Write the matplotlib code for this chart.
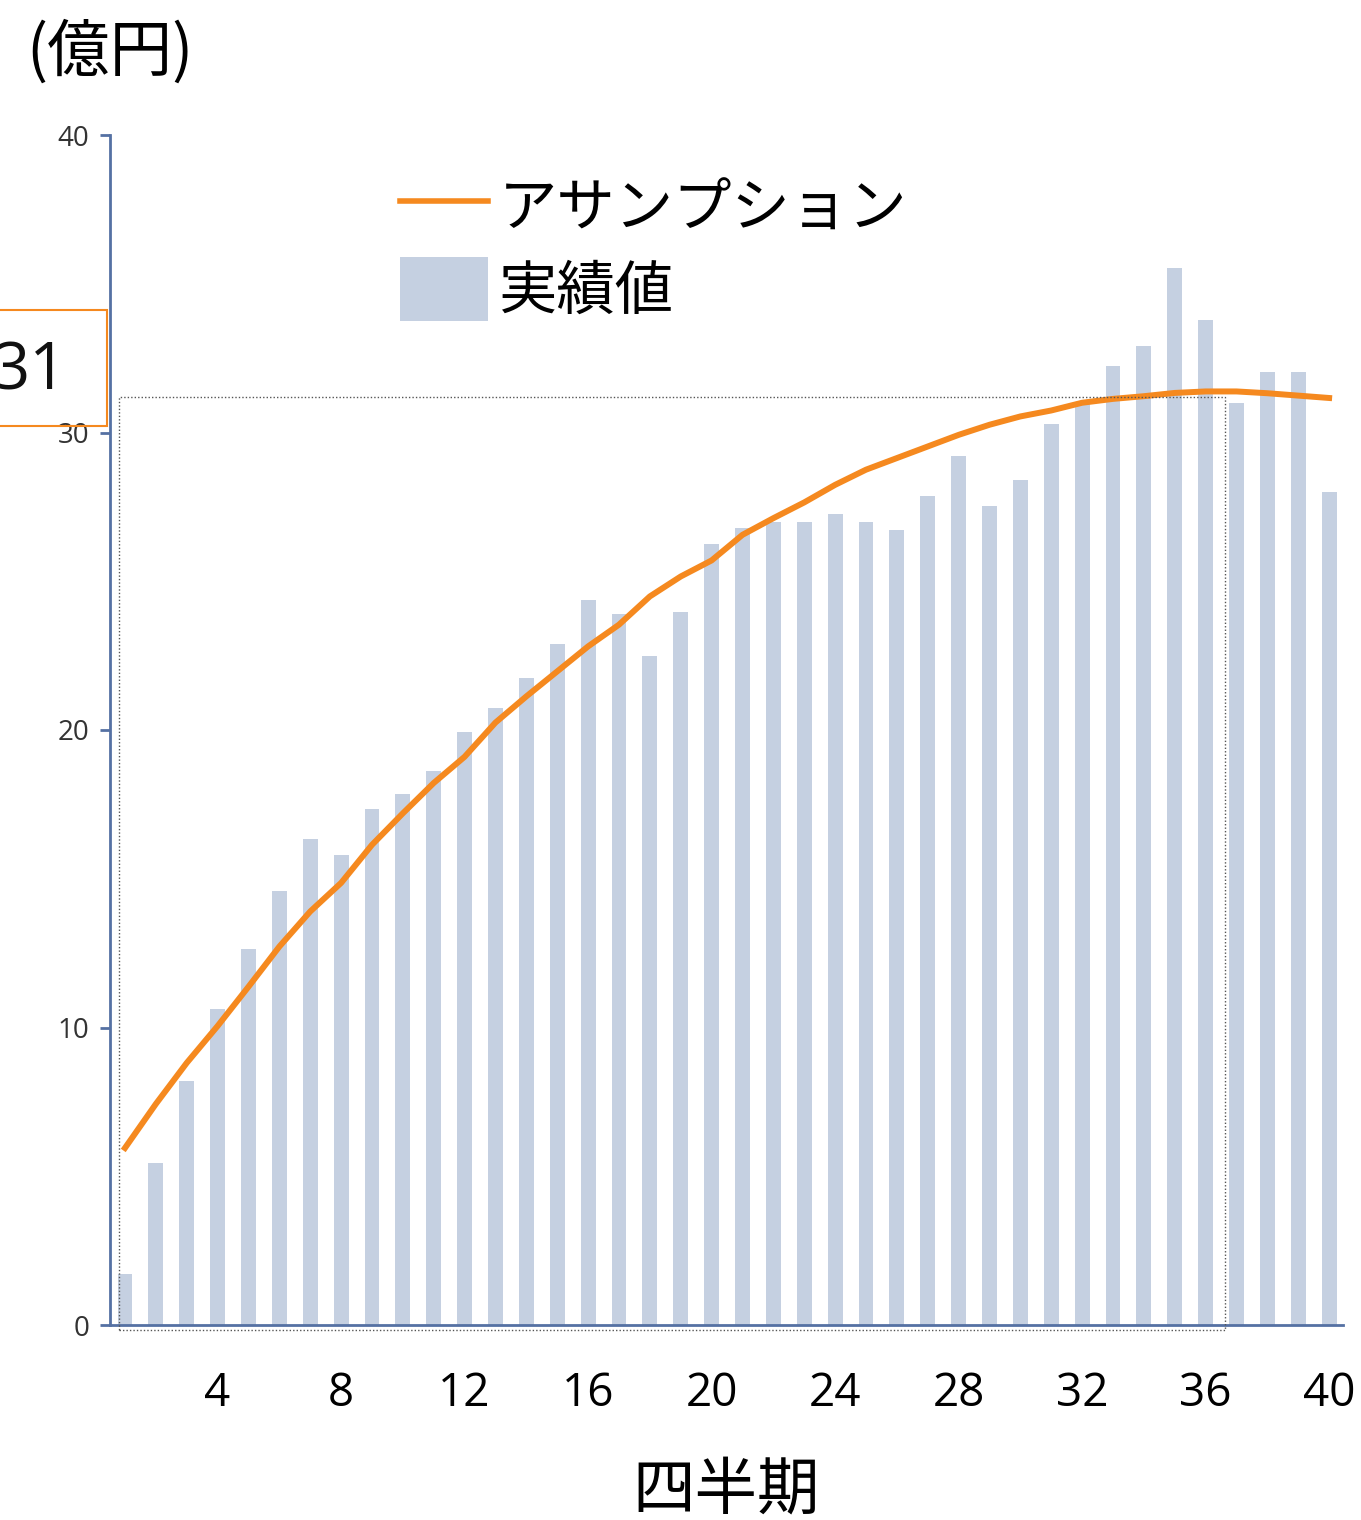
import numpy as np
import matplotlib.pyplot as plt
from matplotlib.patches import Rectangle
from matplotlib.lines import Line2D
from matplotlib.patches import Patch

plt.rcParams["font.family"] = ["Noto Sans CJK JP", "DejaVu Sans"]

# quarterly actuals (億円) and the assumed trend
quarters = np.arange(1, 41)
actuals = [
    1.7, 5.45, 8.2, 10.62, 12.64, 14.59, 16.34, 15.8, 17.34, 17.85,
    18.62, 19.93, 20.74, 21.75, 22.89, 24.37, 23.9, 22.49, 23.97, 26.25,
    26.79, 26.99, 26.99, 27.26, 26.99, 26.72, 27.87, 29.21, 27.53, 28.4,
    30.27, 31.0, 32.22, 32.9, 35.52, 33.77, 31.0, 32.02, 32.02, 28.0,
]
assumption = [
    5.95, 7.43, 8.81, 10.05, 11.37, 12.72, 13.9, 14.86, 16.14, 17.2,
    18.22, 19.1, 20.25, 21.13, 21.97, 22.81, 23.54, 24.49, 25.16, 25.7,
    26.56, 27.12, 27.65, 28.24, 28.75, 29.14, 29.53, 29.92, 30.26, 30.54,
    30.74, 31.0, 31.13, 31.22, 31.33, 31.38, 31.38, 31.32, 31.24, 31.16,
]
xticks = list(range(4, 41, 4))
yticks = [0, 10, 20, 30, 40]
marked_value = 31
marked_span = (0.815, 36.64)

bar_color = "#c5d0e1"
line_color = "#f5891f"
axis_color = "#5571a3"

fig = plt.figure(figsize=(13.61, 15.2), dpi=100)
ax = fig.add_axes([110 / 1361, 195 / 1520, 1233 / 1361, 1190 / 1520])

ax.bar(quarters, actuals, width=0.48, color=bar_color, zorder=2)
ax.plot(quarters, assumption, color=line_color, linewidth=4.3,
        solid_joinstyle="round", zorder=3)

ax.set_xlim(0.515, 40.45)
ax.set_ylim(0, 40)

for side in ("top", "right"):
    ax.spines[side].set_visible(False)
for side in ("left", "bottom"):
    ax.spines[side].set_color(axis_color)
    ax.spines[side].set_linewidth(2)

ax.set_yticks(yticks)
ax.set_yticklabels([str(v) for v in yticks], fontsize=20, color="#333333",
                   family="Open Sans")
ax.tick_params(axis="y", length=7, width=2, color=axis_color, pad=8)

ax.set_xticks(xticks)
ax.set_xticklabels([str(v) for v in xticks], fontsize=33, family="Open Sans")
ax.tick_params(axis="x", length=0, pad=33)

ax.set_xlabel("四半期", fontsize=45, labelpad=30)
fig.text(110 / 1361, 1 - 52 / 1520, "(億円)", fontsize=45,
         ha="center", va="center")

# dotted frame around the range up to the marked level
x0, x1 = marked_span
ax.add_patch(Rectangle((x0, -0.17), x1 - x0, marked_value + 0.21 + 0.17,
                       fill=False, linestyle=(0, (1, 1.5)), linewidth=1,
                       edgecolor="#555555", clip_on=False, zorder=4))

# level callout at the left edge
fig.patches.append(Rectangle((-20 / 1361, 1 - 426 / 1520), 127 / 1361,
                             116 / 1520, fill=False, edgecolor=line_color,
                             linewidth=1.5, transform=fig.transFigure))
fig.text(67 / 1361, 1 - 372 / 1520, str(marked_value), fontsize=47,
         family="Open Sans", ha="right", va="center", color="#111111")

handles = [
    Line2D([], [], color=line_color, linewidth=4),
    Patch(facecolor=bar_color),
]
ax.legend(handles, ["アサンプション", "実績値"], loc="upper left",
          bbox_to_anchor=(290 / 1233, 1 - 40 / 1190), frameon=False,
          fontsize=42, handlelength=1.5, handleheight=1.32,
          handletextpad=0.2, labelspacing=0.28, borderpad=0,
          borderaxespad=0)

fig.savefig("out.png", dpi=100)
